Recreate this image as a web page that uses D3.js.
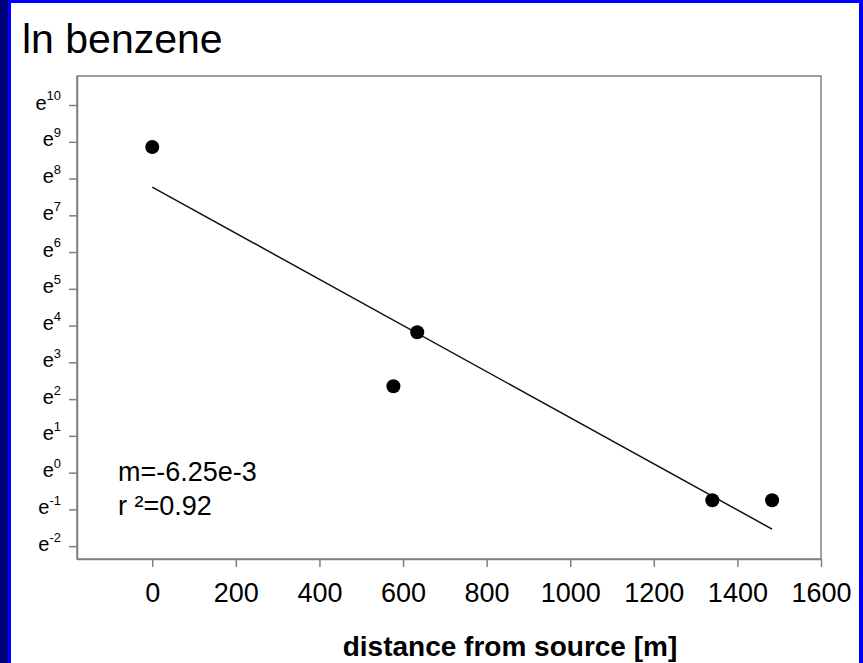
<!DOCTYPE html>
<meta charset="utf-8">
<style>
body { margin: 0; }
text { font-family: Arial, "Liberation Sans", sans-serif; fill: #000; }
.axis path, .axis line { stroke: #808080; stroke-width: 1.5px; }
.axis text { font-family: Arial, "Liberation Sans", sans-serif; fill: #000; }
</style>
<svg width="863" height="663"></svg>
<script src="https://cdn.jsdelivr.net/npm/d3@7"></script>
<script>

// distance from source [m] and ln of benzene
var distance = [0, 577, 634, 1340, 1483];
var lnBenzene = [8.86, 2.35, 3.82, -0.75, -0.75];
var xTicks = [0, 200, 400, 600, 800, 1000, 1200, 1400, 1600];
var yTicks = [-2, -1, 0, 1, 2, 3, 4, 5, 6, 7, 8, 9, 10];

var svg = d3.select("svg");

// page frame
svg.append("rect").attr("width", 863).attr("height", 663).attr("fill", "#fff");
svg.append("rect").attr("x", 0).attr("y", 0).attr("width", 863).attr("height", 3).attr("fill", "#0000ff");
svg.append("rect").attr("x", 0).attr("y", 0).attr("width", 11).attr("height", 663).attr("fill", "#0000ff");
svg.append("rect").attr("x", 0).attr("y", 0).attr("width", 8).attr("height", 663).attr("fill", "#000078");
svg.append("rect").attr("x", 859).attr("y", 0).attr("width", 4).attr("height", 663).attr("fill", "#0000ff");

svg.append("text")
    .attr("x", 22).attr("y", 53)
    .style("font-size", "41px")
    .text("ln benzene");

var x = d3.scaleLinear().domain([-180, 1600]).range([77, 821]);
var y = d3.scaleLinear().domain([-2.35, 10.79]).range([559, 76]);

// frame
svg.append("rect")
    .attr("x", x.range()[0]).attr("y", y.range()[1])
    .attr("width", x.range()[1] - x.range()[0])
    .attr("height", y.range()[0] - y.range()[1])
    .attr("fill", "none").attr("stroke", "#808080").attr("stroke-width", 1.5);

var gx = svg.append("g")
    .attr("class", "axis")
    .attr("transform", "translate(0," + y.range()[0] + ")")
    .call(d3.axisBottom(x).tickValues(xTicks).tickFormat(d3.format("d"))
      .tickSize(8).tickSizeOuter(0).tickPadding(16));
gx.selectAll("text").style("font-size", "27px");

var gy = svg.append("g")
    .attr("class", "axis")
    .attr("transform", "translate(" + x.range()[0] + ",0)")
    .call(d3.axisLeft(y).tickValues(yTicks).tickSize(8).tickSizeOuter(0).tickPadding(8));
gy.selectAll("text").each(function(d) {
  var t = d3.select(this).text("").attr("dy", "0.4em");
  t.append("tspan").style("font-size", "20px").text("e");
  t.append("tspan").style("font-size", "13px").attr("dy", "-0.7em").text(d);
});

svg.append("text")
    .attr("x", 510).attr("y", 656)
    .attr("text-anchor", "middle")
    .style("font-size", "28px").style("font-weight", "bold")
    .text("distance from source [m]");

// linear regression of ln benzene on distance
var mx = d3.mean(distance), my = d3.mean(lnBenzene);
var sxy = d3.sum(distance, function(d, i) { return (d - mx) * (lnBenzene[i] - my); });
var sxx = d3.sum(distance, function(d) { return (d - mx) * (d - mx); });
var slope = sxy / sxx, intercept = my - slope * mx;

var fitX = d3.extent(distance);
svg.append("line")
    .attr("x1", x(fitX[0])).attr("y1", y(intercept + slope * fitX[0]))
    .attr("x2", x(fitX[1])).attr("y2", y(intercept + slope * fitX[1]))
    .attr("stroke", "#111").attr("stroke-width", 1.5);

svg.selectAll("circle")
    .data(distance)
  .enter().append("circle")
    .attr("cx", function(d) { return x(d); })
    .attr("cy", function(d, i) { return y(lnBenzene[i]); })
    .attr("r", 7)
    .attr("fill", "#000");

svg.append("text")
    .attr("x", 118).attr("y", 481)
    .style("font-size", "27px")
    .text("m=-6.25e-3");
svg.append("text")
    .attr("x", 118).attr("y", 515)
    .style("font-size", "27px")
    .text("r \u00b2=0.92");

</script>
